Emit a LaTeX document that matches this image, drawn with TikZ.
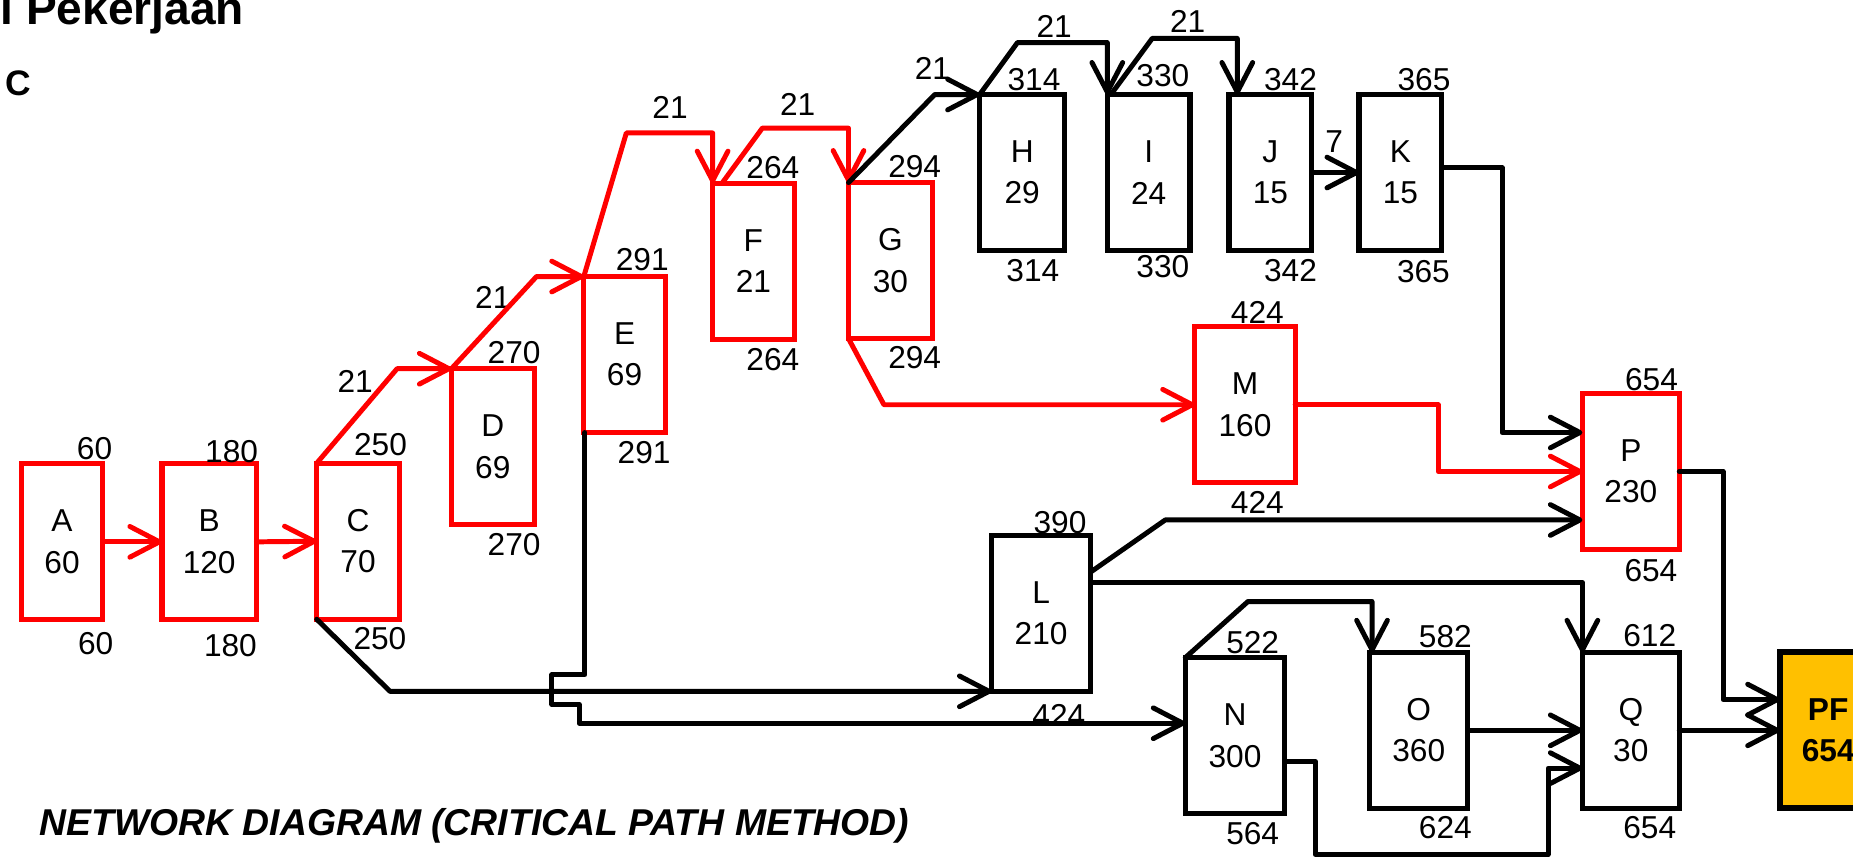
\documentclass[tikz,border=0pt]{standalone}
\usepackage{fontspec}
\setmainfont{Liberation Sans}
\usetikzlibrary{arrows.meta}
\definecolor{critred}{RGB}{255,0,0}
\definecolor{pfgold}{RGB}{255,192,0}
\newcommand\numfont{\fontsize{13.4}{17.5}\selectfont}
\begin{document}
\begin{tikzpicture}[x=0.5pt,y=-0.5pt,
 act/.style={rectangle, draw, line width=2.2pt, minimum height=66pt, inner sep=0pt, outer sep=0pt, align=center, font=\numfont},
 critbox/.style={act, draw=critred},
 normbox/.style={act, draw=black},
 num/.style={inner sep=0pt, font=\numfont},
 conn/.style={line width=2.1pt, line cap=round, line join=round, -{Straight Barb[length=12.5pt,width=13pt,round]}},
 rconn/.style={conn, draw=critred},
 bconn/.style={conn, draw=black},
]
\useasboundingbox (0,0) rectangle (1568,727);
\clip (0,0) rectangle (1568,727);

% title fragments
\node[anchor=base west, inner sep=0pt, font=\fontsize{19.5}{22}\selectfont\bfseries] (title) at (0,21) {l Pekerjaan};
\node[inner sep=0pt, font=\fontsize{15}{18}\selectfont\bfseries] (sub) at (15.5,70.5) {C};
\node[anchor=base west, inner sep=0pt, font=\fontsize{15.8}{18}\selectfont\bfseries\itshape] (cap) at (33,707) {NETWORK DIAGRAM (CRITICAL PATH METHOD)};

% boxes
\node[critbox, minimum width=34.5pt] (A) at (52.5,458.5) {A\\60};
\node[critbox, minimum width=40pt] (B) at (177,458.5) {B\\120};
\node[critbox, minimum width=35pt] (C) at (303,458) {C\\70};
\node[critbox, minimum width=35pt] (D) at (417,378) {D\\69};
\node[critbox, minimum width=34.5pt] (E) at (528.5,300) {E\\69};
\node[critbox, minimum width=34.5pt] (F) at (637.5,221) {F\\21};
\node[critbox, minimum width=35.5pt] (G) at (753.5,220.5) {G\\30};
\node[normbox, minimum width=36pt] (H) at (865,146) {H\\29};
\node[normbox, minimum width=35pt] (I) at (972,146) {I\\24};
\node[normbox, minimum width=35pt] (J) at (1075,146) {J\\15};
\node[normbox, minimum width=35pt] (K) at (1185,146) {K\\15};
\node[critbox, minimum width=42.5pt] (M) at (1053.5,342.5) {M\\160};
\node[normbox, minimum width=42pt] (L) at (881,519) {L\\210};
\node[critbox, minimum width=41pt] (P) at (1380,399) {P\\230};
\node[normbox, minimum width=42pt] (N) at (1045,622.5) {N\\300};
\node[normbox, minimum width=41.5pt] (O) at (1200.5,618) {O\\360};
\node[normbox, minimum width=41pt] (Q) at (1380,618) {Q\\30};
\node[act, draw=black, fill=pfgold, line width=2.6pt, minimum width=41pt, font=\numfont\bfseries] (PF) at (1547,618) {PF\\654};

% time labels
\node[num] (tA) at (80,380) {60};
\node[num] (bA) at (81,545) {60};
\node[num] (tB) at (196,382.5) {180};
\node[num] (bB) at (195,546) {180};
\node[num] (tC) at (322,376.5) {250};
\node[num] (bC) at (321.5,540) {250};
\node[num] (tD) at (435,298.5) {270};
\node[num] (bD) at (435,461) {270};
\node[num] (tE) at (543.5,220) {291};
\node[num] (bE) at (545,383) {291};
\node[num] (tF) at (654,142) {264};
\node[num] (bF) at (654,304.5) {264};
\node[num] (tG) at (774,141) {294};
\node[num] (bG) at (774,303) {294};
\node[num] (tH) at (875,67) {314};
\node[num] (bH) at (874,229) {314};
\node[num] (tI) at (984,64) {330};
\node[num] (bI) at (984,226) {330};
\node[num] (tJ) at (1092,67) {342};
\node[num] (bJ) at (1092,229) {342};
\node[num] (tK) at (1205,67) {365};
\node[num] (bK) at (1204.5,230) {365};
\node[num] (tM) at (1064,264) {424};
\node[num] (bM) at (1064,425.5) {424};
\node[num] (tL) at (897,442.5) {390};
\node[num] (bL) at (896,605) {424};
\node[num] (tP) at (1397.5,321) {654};
\node[num] (bP) at (1397,483) {654};
\node[num] (tN) at (1060,543.5) {522};
\node[num] (bN) at (1060,705.5) {564};
\node[num] (tO) at (1223,539) {582};
\node[num] (bO) at (1223,700) {624};
\node[num] (tQ) at (1396,538) {612};
\node[num] (bQ) at (1396,700) {654};

% lag labels
\node[num] (l1) at (300.5,322.5) {21};
\node[num] (l2) at (417,252) {21};
\node[num] (l3) at (567,91) {21};
\node[num] (l4) at (675,88) {21};
\node[num] (l5) at (789,58) {21};
\node[num] (l6) at (892,22) {21};
\node[num] (l7) at (1005,18) {21};
\node[num] (l8) at (1129,120) {7};

% connectors
\draw[rconn] (A.east) -- (B.west);
\draw[rconn] (B.east) -- (C.west);
\draw[rconn] (C.north west) -- (336,312) -- (D.north west);
\draw[rconn] (D.north west) -- (454,234) -- (E.north west);
\draw[rconn] (E.north west) -- (530,112.5) -| (F.north west);
\draw[rconn] ([xshift=4pt]F.north west) -- (645,108.5) -| (G.north west);
\draw[bconn] (G.north west) -- (791,80) -- (H.north west);
\draw[bconn] (H.north west) -- (861,36) -| (I.north west);
\draw[bconn] ([xshift=1.5pt]I.north west) -- (975,32.5) -| ([xshift=3.5pt]J.north west);
\draw[bconn] (J.east) -- (K.west);
\draw[bconn] ([yshift=2pt]K.east) -| (1271,366) -- ([yshift=16.5pt]P.west);
\draw[rconn] (G.south west) -- (748,342.5) -- (M.west);
\draw[rconn] (M.east) -| (1217,399) -- (P.west);
\draw[bconn] ([yshift=-15.5pt]L.north east) -- (986,440) -- ([yshift=-20.5pt]P.west);
\draw[bconn] ([yshift=-20pt]L.north east) -| (Q.north west);
\draw[bconn] (N.north west) -- (1056,509) -| ([xshift=1pt]O.north west);
\draw[bconn] (O.east) -- (Q.west);
\draw[bconn] ([yshift=-11pt]N.east) -| (1113,723) -| (1310,650) -- ([yshift=-16pt]Q.west);
\draw[bconn] (Q.east) -- (PF.west);
\draw[bconn] (P.east) -| (1458,592) -- ([yshift=13pt]PF.west);
\draw[bconn] (C.south west) -- (330,585) -- (L.south west);
\draw[bconn] ([xshift=0.5pt]E.south west) -- (495,571) -- (467,571) -- (467,596) -- (490,596) -- (490,612) -- ([yshift=5.25pt]N.west);
\end{tikzpicture}
\end{document}
